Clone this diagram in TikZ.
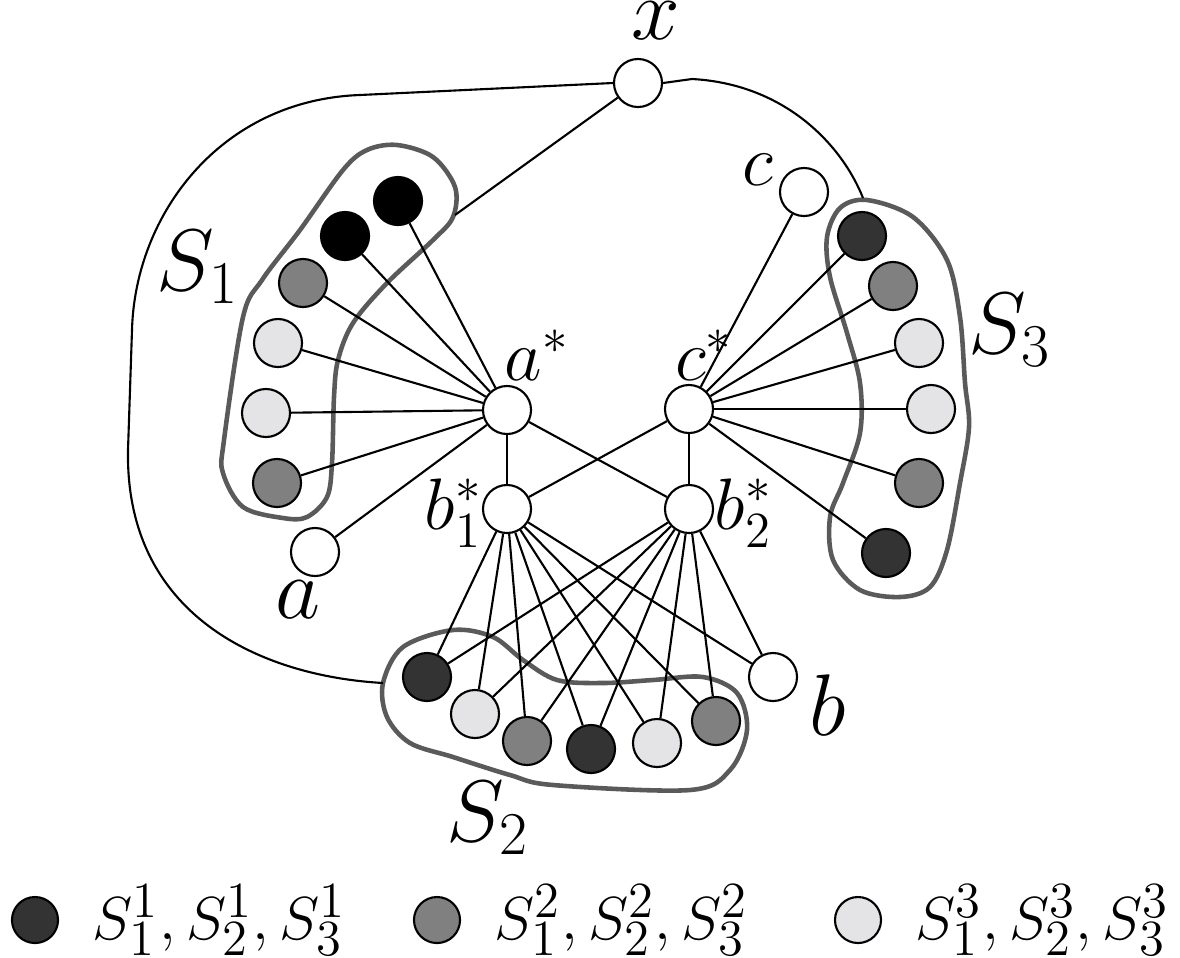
\documentclass[tikz,border=0pt]{standalone}
\usetikzlibrary{positioning}
\definecolor{setDark}{HTML}{333333}
\definecolor{setGrey}{HTML}{808080}
\definecolor{setLight}{HTML}{E4E4E6}
\definecolor{hullGrey}{HTML}{5A5A5A}

\begin{document}
\begin{tikzpicture}[
    x=0.01cm, y=-0.01cm,
    vtx/.style={circle, draw=black, line width=0.6pt, fill=white, minimum size=0.48cm, inner sep=0pt},
    blackv/.style={vtx, fill=black},
    darkv/.style={vtx, fill=setDark},
    greyv/.style={vtx, fill=setGrey},
    lightv/.style={vtx, fill=setLight},
    edge/.style={line width=0.6pt, draw=black},
    hull/.style={line width=1.3pt, draw=hullGrey},
    lbl/.style={font=\fontsize{19}{22}\selectfont, inner sep=0pt},
    starlbl/.style={font=\fontsize{20.5}{24}\selectfont, inner sep=0pt},
    biglbl/.style={font=\fontsize{24.5}{28}\selectfont, inner sep=0pt}
]
\useasboundingbox (0,0) rectangle (1180,957);

% centre vertices
\node[vtx] (x) at (638,83) {};
\node[vtx] (astar) at (507,410) {};
\node[vtx] (cstar) at (689,409) {};
\node[vtx] (b1star) at (507,509) {};
\node[vtx] (b2star) at (689,509) {};
\node[vtx] (a) at (315,552) {};
\node[vtx] (b) at (773,677) {};
\node[vtx] (c) at (804,192) {};

% S_1 vertices
\node[blackv] (s1a) at (398,201) {};
\node[blackv] (s1b) at (345,236) {};
\node[greyv] (s1c) at (303,283) {};
\node[lightv] (s1d) at (278,343) {};
\node[lightv] (s1e) at (266,413) {};
\node[greyv] (s1f) at (277,483) {};

% S_3 vertices
\node[darkv] (s3a) at (862,236) {};
\node[greyv] (s3b) at (893,286) {};
\node[lightv] (s3c) at (919,343) {};
\node[lightv] (s3d) at (931,409) {};
\node[greyv] (s3e) at (919,483) {};
\node[darkv] (s3f) at (886,553) {};

% S_2 vertices
\node[darkv] (s2a) at (427,677) {};
\node[lightv] (s2b) at (475,714) {};
\node[greyv] (s2c) at (527,741) {};
\node[darkv] (s2d) at (591,749) {};
\node[lightv] (s2e) at (657,743) {};
\node[greyv] (s2f) at (716,721) {};

% hulls
\draw[hull] plot[smooth cycle, tension=0.55] coordinates {
    (397,145) (433,157) (455,187) (453,217) (433,240) (387,283) (353,323)
    (338,360) (334,397) (332,463) (327,497) (307,517) (283,518) (243,507)
    (223,473) (224,440) (243,317) (262,280) (300,230) (343,170) (367,150)};
\draw[hull] plot[smooth cycle, tension=0.55] coordinates {
    (867,200) (913,217) (947,260) (960,317) (965,383) (969,427) (960,483)
    (947,550) (930,587) (900,597) (860,590) (833,560) (830,517) (843,483)
    (860,433) (860,383) (847,333) (830,277) (827,237) (840,208)};
\draw[hull] plot[smooth cycle, tension=0.55] coordinates {
    (383,683) (403,647) (453,630) (493,637) (523,660) (557,680) (603,683)
    (653,680) (703,677) (737,693) (747,730) (730,770) (690,790) (553,785)
    (510,775) (453,757) (410,743) (387,717)};

% contact points on the hulls
\coordinate (s1hit) at (455,215);
\coordinate (s2hit) at (383,683);
\coordinate (s3hit) at (863,198);

% edges of a^* and c^*
\foreach \v in {s1a,s1b,s1c,s1d,s1e,s1f,a,b1star,b2star}
    \draw[edge] (astar) -- (\v);
\foreach \v in {s3a,s3b,s3c,s3d,s3e,s3f,c,b1star,b2star}
    \draw[edge] (cstar) -- (\v);
% edges of b_1^* and b_2^*
\foreach \v in {s2a,s2b,s2c,s2d,s2e,s2f,b} {
    \draw[edge] (b1star) -- (\v);
    \draw[edge] (b2star) -- (\v);
}

% edges of x to the sets
\draw[edge] (x) -- (s1hit);
\draw[edge] (x.west) -- (360,95) .. controls (220,100) and (135,215) .. (132,330)
    -- (128,450) .. controls (125,615) and (260,676) .. (s2hit);
\draw[edge] (x.east) -- (692,79) .. controls (785,84) and (842,145) .. (s3hit);

% labels
\node[lbl, font=\fontsize{23}{26}\selectfont] (xlbl) at (656,21) {$x$};
\node[lbl, font=\fontsize{28}{32}\selectfont] (albl) at (298,600) {$a$};
\node[lbl, font=\fontsize{27}{30}\selectfont] (blbl) at (828,705) {$b$};
\node[lbl, font=\fontsize{21}{24}\selectfont] (clbl) at (758,170) {$c$};
\node[starlbl] (astarlbl) at (537,355) {$a^*$};
\node[starlbl] (cstarlbl) at (704,355) {$c^*$};
\node[starlbl, anchor=east] (b1lbl) at (483,513) {$b_1^*$};
\node[starlbl, anchor=west] (b2lbl) at (714,513) {$b_2^*$};
\node[biglbl] (S1lbl) at (198,267) {$S_1$};
\node[biglbl] (S2lbl) at (488,818) {$S_2$};
\node[biglbl] (S3lbl) at (1010,330) {$S_3$};

% legend
\node[darkv, minimum size=0.46cm] (keydark) at (35,920) {};
\node[lbl, right=0.33cm of keydark] (keydarklbl) {$S_1^1, S_2^1, S_3^1$};
\node[greyv, minimum size=0.46cm] (keygrey) at (437,920) {};
\node[lbl, right=0.33cm of keygrey] (keygreylbl) {$S_1^2, S_2^2, S_3^2$};
\node[lightv, minimum size=0.46cm] (keylight) at (858,920) {};
\node[lbl, right=0.33cm of keylight] (keylightlbl) {$S_1^3, S_2^3, S_3^3$};

\end{tikzpicture}
\end{document}
